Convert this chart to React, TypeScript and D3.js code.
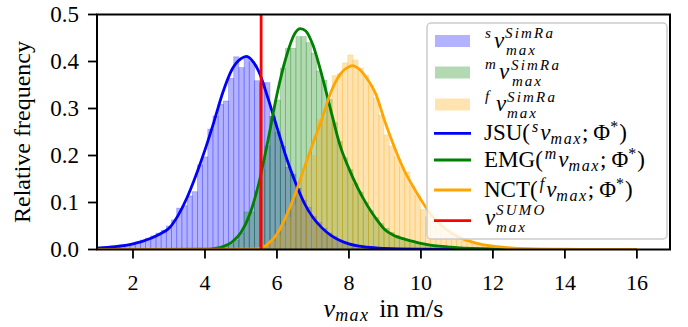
import React from 'react';
import * as d3 from 'd3';

// ---------- data ----------
const BIN_ORIGIN = 1.054; // m/s, left edge of bin 0
const BIN_WIDTH = 0.144;  // m/s

const slowStartBin = 0;
const slowHist = [0.003,0.004,0.005,0.006,0.007,0.009,0.012,0.016,0.02,0.024,0.029,0.035,0.041,0.05,0.063,0.088,0.093,0.114,0.123,0.18,0.197,0.256,0.284,0.309,0.316,0.364,0.41,0.387,0.41,0.40,0.359,0.355,0.355,0.283,0.25,0.22,0.175,0.16,0.13,0.105,0.09,0.07,0.058,0.045,0.035,0.028,0.02,0.016,0.012,0.009,0.007,0.005,0.004,0.003,0.003,0.002,0.002,0.001,0.001];

const mediumStartBin = 22;
const mediumHist = [0.001,0.003,0.006,0.012,0.02,0.035,0.08,0.08,0.125,0.17,0.22,0.283,0.318,0.386,0.428,0.428,0.453,0.453,0.44,0.418,0.38,0.36,0.32,0.27,0.23,0.195,0.17,0.14,0.122,0.1,0.083,0.068,0.055,0.045,0.036,0.03,0.025,0.021,0.018,0.015,0.012,0.01,0.009,0.007,0.006,0.005,0.004,0.003,0.003,0.002,0.002,0.0015,0.001,0.001];

const fastStartBin = 30;
const fastHist = [0.002,0.004,0.009,0.018,0.03,0.05,0.068,0.095,0.125,0.163,0.2,0.2,0.276,0.28,0.3,0.37,0.375,0.397,0.414,0.403,0.386,0.371,0.35,0.322,0.286,0.244,0.22,0.197,0.176,0.165,0.135,0.116,0.085,0.07,0.06,0.05,0.042,0.033,0.027,0.022,0.018,0.014,0.011,0.009,0.007,0.006,0.005,0.004,0.003,0.003,0.002,0.002,0.0015,0.001,0.001,0.001,0.0008,0.0006,0.0005,0.0004];

const jsuX = [1.0,1.5,2.0,2.5,2.75,3.0,3.25,3.5,3.75,4.0,4.25,4.5,4.75,5.0,5.15,5.3,5.5,5.75,6.0,6.25,6.5,6.75,7.0,7.25,7.5,7.75,8.0,8.5,9.0,10.0,12.0,16.0];
const jsuY = [0.003,0.006,0.012,0.024,0.033,0.045,0.072,0.11,0.158,0.212,0.272,0.335,0.383,0.406,0.411,0.403,0.378,0.322,0.26,0.198,0.145,0.1,0.068,0.046,0.03,0.019,0.012,0.005,0.0025,0.001,0.0003,0.0];

const emgX = [1.0,4.0,4.25,4.5,4.75,5.0,5.25,5.5,5.75,6.0,6.25,6.5,6.65,6.8,7.0,7.25,7.5,7.75,8.0,8.25,8.5,8.75,9.0,9.25,9.5,9.75,10.0,10.25,10.5,11.0,12.0,13.0,16.0];
const emgY = [0.0,0.0005,0.002,0.006,0.016,0.036,0.076,0.142,0.232,0.33,0.408,0.46,0.47,0.465,0.435,0.37,0.295,0.222,0.172,0.13,0.095,0.066,0.042,0.03,0.023,0.018,0.013,0.0095,0.007,0.004,0.0012,0.0004,0.0];

const nctX = [1.0,5.25,5.5,5.75,6.0,6.25,6.5,6.75,7.0,7.25,7.5,7.75,8.0,8.1,8.25,8.5,8.75,9.0,9.25,9.5,9.75,10.0,10.25,10.5,10.75,11.0,11.5,12.0,12.5,13.0,14.0,15.0,16.0];
const nctY = [0.0,0.0005,0.002,0.012,0.033,0.07,0.117,0.172,0.226,0.278,0.335,0.372,0.389,0.391,0.386,0.364,0.33,0.272,0.22,0.174,0.138,0.106,0.077,0.056,0.04,0.028,0.014,0.007,0.0035,0.0018,0.0005,0.0002,0.0001];

const sumoVmax = 5.56;

const xTicks = [2, 4, 6, 8, 10, 12, 14, 16];
const yTicks = [0.0, 0.1, 0.2, 0.3, 0.4, 0.5];

// ---------- layout ----------
const W = 688, H = 327;
const PL = 97, PR = 670, PT = 14.5, PB = 249.5;
const FONT = '"Liberation Serif", serif';

const BLUE = '#0000ff', GREEN = '#008000', ORANGE = '#ffa500', RED = '#ff0000';

export default function App() {
  const x = d3.scaleLinear().domain([1.0, 16.92]).range([PL, PR]);
  const y = d3.scaleLinear().domain([0, 0.5]).range([PB, PT]);

  const hist = (start: number, vals: number[], color: string, key: string) =>
    vals.map((v, i) => {
      const x0 = BIN_ORIGIN + (start + i) * BIN_WIDTH;
      const x1 = x0 + BIN_WIDTH;
      return (
        <rect key={key + i} x={x(x0)} y={y(v)} width={x(x1) - x(x0)} height={y(0) - y(v)}
          fill={color} fillOpacity={0.3} stroke={color} strokeOpacity={0.25} strokeWidth={0.8} />
      );
    });

  const line = (xs: number[], ys: number[]) =>
    d3.line<number>().x((_, i) => x(xs[i])).y((_, i) => y(ys[i])).curve(d3.curveMonotoneX)(xs.map((_, i) => i)) || '';

  const LX = 427, LY = 23, LW = 240, LH = 216;
  const tx = 484;
  const F = 23, S = 16, SS = 15;
  const ts = { fontFamily: FONT };
  const tsi = { fontFamily: FONT, fontStyle: 'italic' as const };

  // offsets (px from tx) of: v, superscript, subscript
  const stacked = (pre: string, cy: number, sup: string, vx: number, supx: number, subx: number, key: string) => (
    <g key={key}>
      {pre ? <text x={tx + 1} y={cy - 3.5} fontSize={SS} style={tsi}>{pre}</text> : null}
      <text x={tx + vx} y={cy + 6.5} fontSize={F} style={tsi}>v</text>
      <text x={tx + supx} y={cy - 3} fontSize={SS} style={tsi} letterSpacing={2.2}>{sup}</text>
      <text x={tx + subx} y={cy + 13.5} fontSize={SS} style={tsi} letterSpacing={2}>max</text>
    </g>
  );

  const fnLabel = (name: string, pre: string, cy: number, key: string) => (
    <text key={key} x={tx} y={cy + 6.5} style={ts} fontSize={F}>
      {name}(
      <tspan fontSize={S} fontStyle="italic" dy={-8} dx={2}>{pre}</tspan>
      <tspan fontStyle="italic" dy={8} dx={2}>v</tspan>
      <tspan fontSize={S} fontStyle="italic" dy={4} letterSpacing={1.6}>max</tspan>
      <tspan dy={-4}>;</tspan>
      <tspan dx={5}>Φ</tspan>
      <tspan fontSize={S} dy={-8}>*</tspan>
      <tspan dy={8} dx={1}>)</tspan>
    </text>
  );

  return (
    <svg width={W} height={H} style={{ position: 'absolute', left: 0, top: 0 }}>
      <defs>
        <clipPath id="plot"><rect x={PL} y={PT} width={PR - PL} height={PB - PT} /></clipPath>
      </defs>
      <rect x={0} y={0} width={W} height={H} fill="#fff" />
      <g clipPath="url(#plot)">
        {hist(slowStartBin, slowHist, BLUE, 's')}
        {hist(mediumStartBin, mediumHist, GREEN, 'm')}
        {hist(fastStartBin, fastHist, ORANGE, 'f')}
        <path d={line(jsuX, jsuY)} fill="none" stroke={BLUE} strokeWidth={2.8} />
        <path d={line(emgX, emgY)} fill="none" stroke={GREEN} strokeWidth={2.8} />
        <path d={line(nctX, nctY)} fill="none" stroke={ORANGE} strokeWidth={2.8} />
        <line x1={x(sumoVmax)} x2={x(sumoVmax)} y1={PT} y2={PB} stroke={RED} strokeWidth={2.8} />
      </g>

      {/* axes frame */}
      <rect x={PL} y={PT} width={PR - PL} height={PB - PT} fill="none" stroke="#000" strokeWidth={2} />
      {xTicks.map(t => (
        <g key={'xt' + t}>
          <line x1={x(t)} x2={x(t)} y1={PB} y2={PB + 9} stroke="#000" strokeWidth={1.8} />
          <text x={x(t)} y={PB + 40} textAnchor="middle" fontSize={22} style={ts}>{t}</text>
        </g>
      ))}
      {yTicks.map(t => (
        <g key={'yt' + t}>
          <line x1={PL - 9} x2={PL} y1={y(t)} y2={y(t)} stroke="#000" strokeWidth={1.8} />
          <text x={PL - 18} y={y(t) + 7} textAnchor="end" fontSize={23} style={ts}>{t.toFixed(1)}</text>
        </g>
      ))}
      <text transform={`translate(30,${(PT + PB) / 2}) rotate(-90)`} textAnchor="middle" fontSize={24} style={ts}>Relative frequency</text>
      <text x={(PL + PR) / 2} y={317} textAnchor="middle" fontSize={26} style={ts}>
        <tspan fontStyle="italic">v</tspan>
        <tspan fontStyle="italic" fontSize={18} dy={4} letterSpacing={1.5}>max</tspan>
        <tspan dy={-4} dx={3}> in m/s</tspan>
      </text>

      {/* legend */}
      <rect x={LX} y={LY} width={LW} height={LH} rx={4} fill="#fff" fillOpacity={0.8} stroke="#cccccc" strokeWidth={1.5} />
      <rect x={435} y={35} width={35} height={12} fill={BLUE} fillOpacity={0.3} />
      <rect x={435} y={66.5} width={35} height={12} fill={GREEN} fillOpacity={0.3} />
      <rect x={435} y={98.5} width={35} height={12} fill={ORANGE} fillOpacity={0.3} />
      {stacked('s', 41, 'SimRa', 10, 21, 22, 'st-s')}
      {stacked('m', 72.5, 'SimRa', 15, 27, 28, 'st-m')}
      {stacked('f', 104.5, 'SimRa', 12, 23, 23, 'st-f')}
      {[['JSU', 's', 133.3, BLUE], ['EMG', 'm', 160, GREEN], ['NCT', 'f', 190, ORANGE]].map(([n, pre, cy, c]) => (
        <g key={'l' + n}>
          <line x1={434} x2={471} y1={cy as number} y2={cy as number} stroke={c as string} strokeWidth={2.8} />
          {fnLabel(n as string, pre as string, cy as number, 'fl' + n)}
        </g>
      ))}
      <line x1={434} x2={471} y1={220.7} y2={220.7} stroke={RED} strokeWidth={2.8} />
      {stacked('', 218, 'SUMO', 1, 12, 12, 'sumo')}
    </svg>
  );
}
